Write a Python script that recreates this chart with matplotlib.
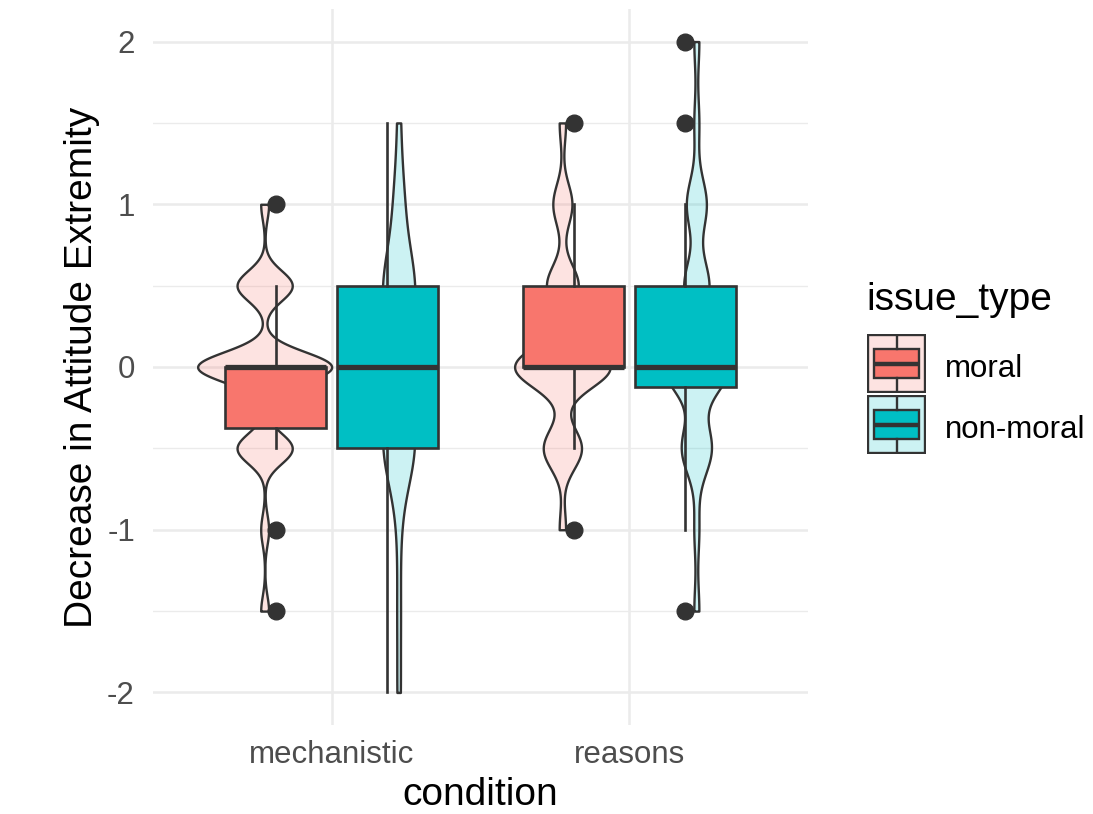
import numpy as np
import matplotlib

matplotlib.use("Agg")
import matplotlib.pyplot as plt
from matplotlib.colors import to_rgba
from matplotlib.patches import Rectangle

plt.rcParams["font.family"] = ["Liberation Sans", "DejaVu Sans"]

conditions = ["mechanistic", "reasons"]
issue_types = ["moral", "non-moral"]
issue_colors = ["#F8766D", "#00BFC4"]

# answer levels and how many participants landed on each one
levels = [-2.0, -1.5, -1.0, -0.5, 0.0, 0.5, 1.0, 1.5, 2.0]
mech_moral = [0, 1, 1, 7, 17, 7, 1, 0, 0]
mech_nonmoral = [1, 1, 1, 9, 8, 9, 3, 1, 0]
reasons_moral = [0, 0, 1, 6, 15, 5, 3, 1, 0]
reasons_nonmoral = [0, 1, 1, 6, 13, 5, 4, 1, 1]

y_ticks = [-2, -1, 0, 1, 2]
y_tick_labels = ["-2", "-1", "0", "1", "2"]

W, H = 1093, 814
GREY20 = "#333333"
GRID = "#EBEBEB"
BW_ADJUST = 0.75  # violin kernel bandwidth multiplier

groups = [
    (0, 0, mech_moral),
    (0, 1, mech_nonmoral),
    (1, 0, reasons_moral),
    (1, 1, reasons_nonmoral),
]


def px_axes(fig, x0, y0, x1, y1):
    return fig.add_axes([x0 / W, 1 - y1 / H, (x1 - x0) / W, (y1 - y0) / H])


def bw_nrd0(x):
    q75, q25 = np.percentile(x, [75, 25])
    lo = min(x.std(ddof=1), (q75 - q25) / 1.34)
    return 0.9 * lo * len(x) ** -0.2


def density(x):
    grid = np.linspace(x.min(), x.max(), 512)
    h = bw_nrd0(x) * BW_ADJUST
    z = (grid[:, None] - x[None, :]) / h
    d = np.exp(-0.5 * z ** 2).sum(axis=1) / (len(x) * h * np.sqrt(2 * np.pi))
    return grid, d


fig = plt.figure(figsize=(W / 100, H / 100), dpi=100)
ax = px_axes(fig, 153, 9, 808, 725)

samples = [np.repeat(levels, cnt) for _, _, cnt in groups]
dens = [density(s) for s in samples]
dmax = max(d.max() for _, d in dens)

violin_off = [-0.225, 0.225]
box_off = [-0.1875, 0.1875]

for (ci, ii, _), (grid, d) in zip(groups, dens):
    xc = ci + 1 + violin_off[ii]
    hw = d / dmax * 0.225
    ax.fill_betweenx(grid, xc - hw, xc + hw, facecolor=to_rgba(issue_colors[ii], 0.2),
                     edgecolor=GREY20, linewidth=1.7, zorder=2)

positions = [ci + 1 + box_off[ii] for ci, ii, _ in groups]
bp = ax.boxplot(
    samples, positions=positions, widths=0.34, patch_artist=True, whis=1.5,
    showcaps=False, manage_ticks=False, zorder=3,
    boxprops=dict(edgecolor=GREY20, linewidth=1.9),
    medianprops=dict(color=GREY20, linewidth=3.8, solid_capstyle="butt"),
    whiskerprops=dict(color=GREY20, linewidth=1.9),
    flierprops=dict(marker="o", markerfacecolor=GREY20, markeredgecolor=GREY20, markersize=12),
)
for patch, (_, ii, _) in zip(bp["boxes"], groups):
    patch.set_facecolor(issue_colors[ii])

ax.set_xlim(0.4, 2.6)
ax.set_ylim(-2.2, 2.2)
ax.set_xticks([1, 2], conditions)
ax.set_yticks(y_ticks, y_tick_labels)
ax.set_yticks([-1.5, -0.5, 0.5, 1.5], minor=True)
ax.grid(which="major", color=GRID, linewidth=1.8, zorder=0)
ax.grid(which="minor", axis="y", color=GRID, linewidth=1.0, zorder=0)
ax.set_axisbelow(True)
for s in ax.spines.values():
    s.set_visible(False)
ax.tick_params(which="both", length=0, labelsize=22.5, labelcolor="#4D4D4D")
ax.tick_params(axis="x", pad=11)
ax.tick_params(axis="y", pad=13)
ax.set_xlabel("condition", fontsize=28, labelpad=5)
ax.set_ylabel("Decrease in Attitude Extremity", fontsize=28, labelpad=5)

# legend: violin key behind a small boxplot key
fig.text(866 / W, 1 - 300 / H, "issue_type", fontsize=28, va="center", ha="left")
key_tops = [334, 395]
for ii, (lab, col) in enumerate(zip(issue_types, issue_colors)):
    top = key_tops[ii]
    kax = px_axes(fig, 867, top, 926, top + 59)
    kax.set_xlim(0, 1)
    kax.set_ylim(0, 1)
    kax.axis("off")
    kax.add_patch(Rectangle((0.02, 0.02), 0.96, 0.96, facecolor=to_rgba(col, 0.2),
                            edgecolor=GREY20, linewidth=1.7))
    kax.plot([0.5, 0.5], [0.02, 0.25], color=GREY20, lw=1.7)
    kax.plot([0.5, 0.5], [0.75, 0.98], color=GREY20, lw=1.7)
    kax.add_patch(Rectangle((0.125, 0.25), 0.75, 0.5, facecolor=col,
                            edgecolor=GREY20, linewidth=1.7))
    kax.plot([0.125, 0.875], [0.5, 0.5], color=GREY20, lw=3.2, solid_capstyle="butt")
    fig.text(945 / W, 1 - (top + 35) / H, lab, fontsize=22.5, va="center", ha="left")

fig.savefig("out.png", dpi=100)
